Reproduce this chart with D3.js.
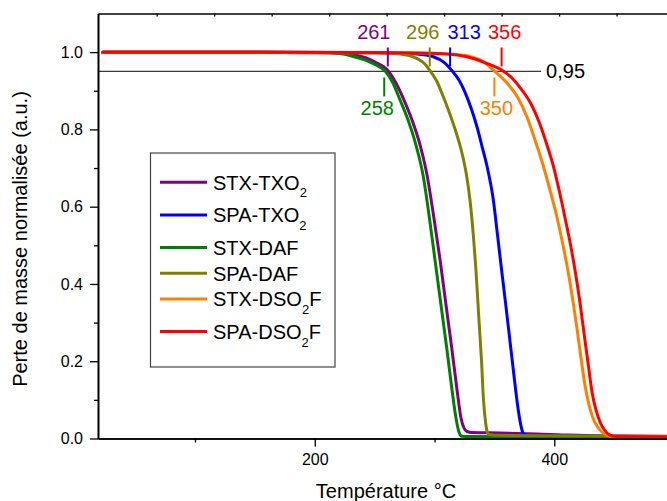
<!DOCTYPE html>
<html><head><meta charset="utf-8">
<script src="https://cdn.jsdelivr.net/npm/d3@7"></script>
<style>
body{margin:0;background:#fff;}
svg{display:block;font-family:Arial,"Liberation Sans",sans-serif;}
</style></head>
<body><svg id="chart" width="667" height="501"></svg>
<script>
// ---- data ----
const seriesNames = ["STX-TXO2","SPA-TXO2","STX-DAF","SPA-DAF","STX-DSO2F","SPA-DSO2F"];
const seriesColors = ["#800080","#0000ff","#008000","#808000","#ff8000","#ff0000"];
const stxTxo2 = [[23,1.0],[150,1.0],[212.7,0.9987],[233.6,0.9925],[250.3,0.9744],[261.2,0.9519],[267.8,0.920],[274.5,0.876],[281.2,0.8245],[287.9,0.760],[293.7,0.6825],[299.1,0.579],[304.6,0.4633],[309.6,0.3455],[314.6,0.229],[318.8,0.1255],[322.1,0.0531],[324.6,0.0272],[327.1,0.0181],[331.3,0.0155],[354.7,0.0142],[396.4,0.0104],[438.2,0.0065],[494.1,0.0052],[520,0.005]];
const spaTxo2 = [[23,1.0],[150,1.0],[254.5,0.9982],[285.1,0.9951],[299.0,0.9881],[308.7,0.9718],[314.6,0.9519],[320.4,0.9278],[325.4,0.8967],[330.5,0.8553],[335.5,0.8062],[339.6,0.757],[343.8,0.7052],[349.1,0.6172],[352.6,0.5266],[356.0,0.4361],[359.4,0.3481],[362.7,0.2601],[366.0,0.1721],[369.1,0.0919],[371.4,0.0453],[373.0,0.022],[374.7,0.0104],[379.7,0.007],[494.1,0.0052],[520,0.005]];
const stxDaf = [[23,1.0],[150,1.0],[200,0.999],[212.7,0.9982],[223.6,0.9951],[233.6,0.9873],[243.4,0.9783],[251.1,0.9666],[258.6,0.9519],[265.3,0.920],[271.2,0.876],[277.9,0.8242],[284.5,0.7595],[290.4,0.6819],[295.4,0.5784],[300.4,0.4619],[305.4,0.3455],[310.4,0.229],[314.6,0.1255],[317.9,0.0531],[320.4,0.0168],[322.9,0.0057],[329.6,0.0052],[438.2,0.0039],[494.1,0.0034],[520,0.003]];
const spaDaf = [[23,1.0],[150,1.0],[187.7,0.9987],[254.5,0.9977],[271.2,0.9951],[285.1,0.984],[292.0,0.9692],[296.2,0.9519],[301.8,0.9252],[307.1,0.8863],[312.5,0.8423],[317.9,0.7932],[322.9,0.7389],[326.7,0.6819],[329.6,0.6172],[332.4,0.5266],[334.6,0.4361],[337.1,0.3067],[339.2,0.2031],[340.9,0.0996],[342.6,0.0427],[343.8,0.0194],[345.5,0.0104],[350.5,0.0083],[396.4,0.007],[494.1,0.0057],[520,0.0055]];
const stxDso2f = [[23,1.0],[150,1.0],[250,0.999],[312.9,0.9951],[329.6,0.9886],[340.5,0.9757],[349.7,0.9519],[360.5,0.920],[369.7,0.8812],[377.2,0.832],[383.9,0.7725],[390.6,0.7078],[396.4,0.6431],[401.4,0.5836],[406.4,0.5137],[411.0,0.4413],[415.2,0.3636],[418.9,0.286],[422.3,0.2083],[425.6,0.1384],[429.0,0.0867],[432.3,0.0531],[436.1,0.0298],[439.8,0.0168],[444.0,0.0083],[450.7,0.0052],[494.1,0.0044],[520,0.0042]];
const spaDso2f = [[23,1.0],[150,1.0],[250,0.999],[298.7,0.9969],[326.9,0.9881],[343.6,0.971],[356.1,0.9537],[364.7,0.933],[373.0,0.9019],[380.6,0.8657],[387.3,0.8191],[393.1,0.7673],[399.0,0.7078],[404.0,0.6431],[409.0,0.5706],[413.6,0.5008],[417.7,0.4283],[421.5,0.3507],[424.8,0.273],[428.2,0.1954],[431.5,0.1203],[434.8,0.0738],[438.2,0.0427],[441.9,0.022],[445.7,0.0104],[450.7,0.0054],[494.1,0.0044],[520,0.0042]];
const seriesData = [stxTxo2, spaTxo2, stxDaf, spaDaf, stxDso2f, spaDso2f];

const xTickMajor = [200, 400];
const xTickMinor = [100, 300, 500];
const yTickMajor = [0.0, 0.2, 0.4, 0.6, 0.8, 1.0];
const yTickMinor = [0.1, 0.3, 0.5, 0.7, 0.9];
const topTickValues = [68,116,164,212,260,308,356,404,452,500];
const thresholdValue = 0.95;
const thresholdEnd = 389;
const thresholdLabel = "0,95";
// onset annotations: temperature, series index, side (above/below the 0.95 line)
const onsetTemps = [261, 296, 313, 356, 258, 350];
const onsetSeries = [0, 3, 1, 5, 2, 4];
const onsetAbove = [true, true, true, true, false, false];
const onsetLabelDx = [-14, -7, 14, 3, -7, 2]; // label offset (layout)

const xTitle = "Température °C";
const yTitle = "Perte de masse normalisée (a.u.)";

// ---- layout ----
const svg = d3.select("#chart");
const L = 98, T = 13.5, B = 438.5, R = 698;
const x = d3.scaleLinear().domain([19, 520]).range([L, R]);
const y = d3.scaleLinear().domain([0, 1.1]).range([B, T]);

svg.append("defs").append("clipPath").attr("id","clip")
  .append("rect").attr("x",L).attr("y",T).attr("width",R-L).attr("height",B-T);

// threshold line
svg.append("line").attr("x1",L).attr("x2",x(thresholdEnd)).attr("y1",y(thresholdValue)).attr("y2",y(thresholdValue))
  .attr("stroke","#3a3a3a").attr("stroke-width",1.2);
svg.append("text").attr("x",x(thresholdEnd)+5).attr("y",y(thresholdValue)+7)
  .attr("font-size",20).attr("fill","#000").text(thresholdLabel);

// curves
const line = d3.line().x(d=>x(d[0])).y(d=>y(d[1])).curve(d3.curveMonotoneX);
const g = svg.append("g").attr("clip-path","url(#clip)");
seriesData.forEach((s,i)=>{
  g.append("path").attr("d", line(s)).attr("fill","none")
    .attr("stroke", seriesColors[i]).attr("stroke-width",3)
    .attr("stroke-linejoin","round").attr("stroke-linecap","round");
});

// onset annotations
onsetTemps.forEach((t,i)=>{
  const c = seriesColors[onsetSeries[i]];
  const above = onsetAbove[i];
  const y0 = above ? y(thresholdValue)-24 : y(thresholdValue)+6;
  svg.append("line").attr("x1",x(t)).attr("x2",x(t)).attr("y1",y0).attr("y2",y0+19)
    .attr("stroke",c).attr("stroke-width",2);
  svg.append("text").attr("x",x(t)+onsetLabelDx[i]).attr("y", above ? y0-8 : y0+38)
    .attr("text-anchor","middle").attr("font-size",20).attr("fill",c).text(String(t));
});

// axes
const axisStyle = sel => { sel.select(".domain").attr("stroke","#000").attr("stroke-width",1.6);
  sel.selectAll(".tick line").attr("stroke","#000").attr("stroke-width",1.3);
  sel.selectAll("text").attr("font-family","Arial, 'Liberation Sans', sans-serif").attr("fill","#000"); };

const xAxisMajor = svg.append("g").attr("transform",`translate(0,${B})`)
  .call(d3.axisBottom(x).tickValues(xTickMajor).tickSize(8).tickPadding(7).tickSizeOuter(0).tickFormat(d3.format("d")));
xAxisMajor.selectAll("text").attr("font-size",16);
axisStyle(xAxisMajor);
const xAxisMinor = svg.append("g").attr("transform",`translate(0,${B})`)
  .call(d3.axisBottom(x).tickValues(xTickMinor).tickSize(4).tickSizeOuter(0).tickFormat(""));
axisStyle(xAxisMinor);

const yAxisMajor = svg.append("g").attr("transform",`translate(${L},0)`)
  .call(d3.axisLeft(y).tickValues(yTickMajor).tickSize(8).tickPadding(7).tickSizeOuter(0).tickFormat(d3.format(".1f")));
yAxisMajor.selectAll("text").attr("font-size",16);
axisStyle(yAxisMajor);
const yAxisMinor = svg.append("g").attr("transform",`translate(${L},0)`)
  .call(d3.axisLeft(y).tickValues(yTickMinor).tickSize(4).tickSizeOuter(0).tickFormat(""));
axisStyle(yAxisMinor);

const topAxis = svg.append("g").attr("transform",`translate(0,${T})`)
  .call(d3.axisBottom(x).tickValues(topTickValues).tickSize(3).tickSizeOuter(0).tickFormat(""));
axisStyle(topAxis);

// titles
svg.append("text").attr("x",386).attr("y",498).attr("text-anchor","middle")
  .attr("font-size",20).attr("fill","#000").text(xTitle);
svg.append("text").attr("transform","translate(27,239) rotate(-90)").attr("text-anchor","middle")
  .attr("font-size",20).attr("fill","#000").text(yTitle);

// legend
const lg = svg.append("g");
lg.append("rect").attr("x",150.5).attr("y",153).attr("width",184.5).attr("height",214)
  .attr("fill","#fff").attr("stroke","#444").attr("stroke-width",1.2);
let ly = 182.3;
seriesNames.forEach((name,i)=>{
  lg.append("line").attr("x1",160).attr("x2",207).attr("y1",ly).attr("y2",ly)
    .attr("stroke",seriesColors[i]).attr("stroke-width",3);
  const t = lg.append("text").attr("x",213).attr("y",ly+7.5).attr("font-size",20).attr("fill","#000");
  const m = name.match(/^(.*?)2(.*)$/);
  if (m) {
    t.append("tspan").text(m[1]);
    t.append("tspan").attr("font-size",13).attr("dy",7.5).text("2");
    if (m[2]) t.append("tspan").attr("dy",-7.5).text(m[2]);
  } else t.text(name);
  ly += m ? 32.6 : 25.7;
});
</script></body></html>
